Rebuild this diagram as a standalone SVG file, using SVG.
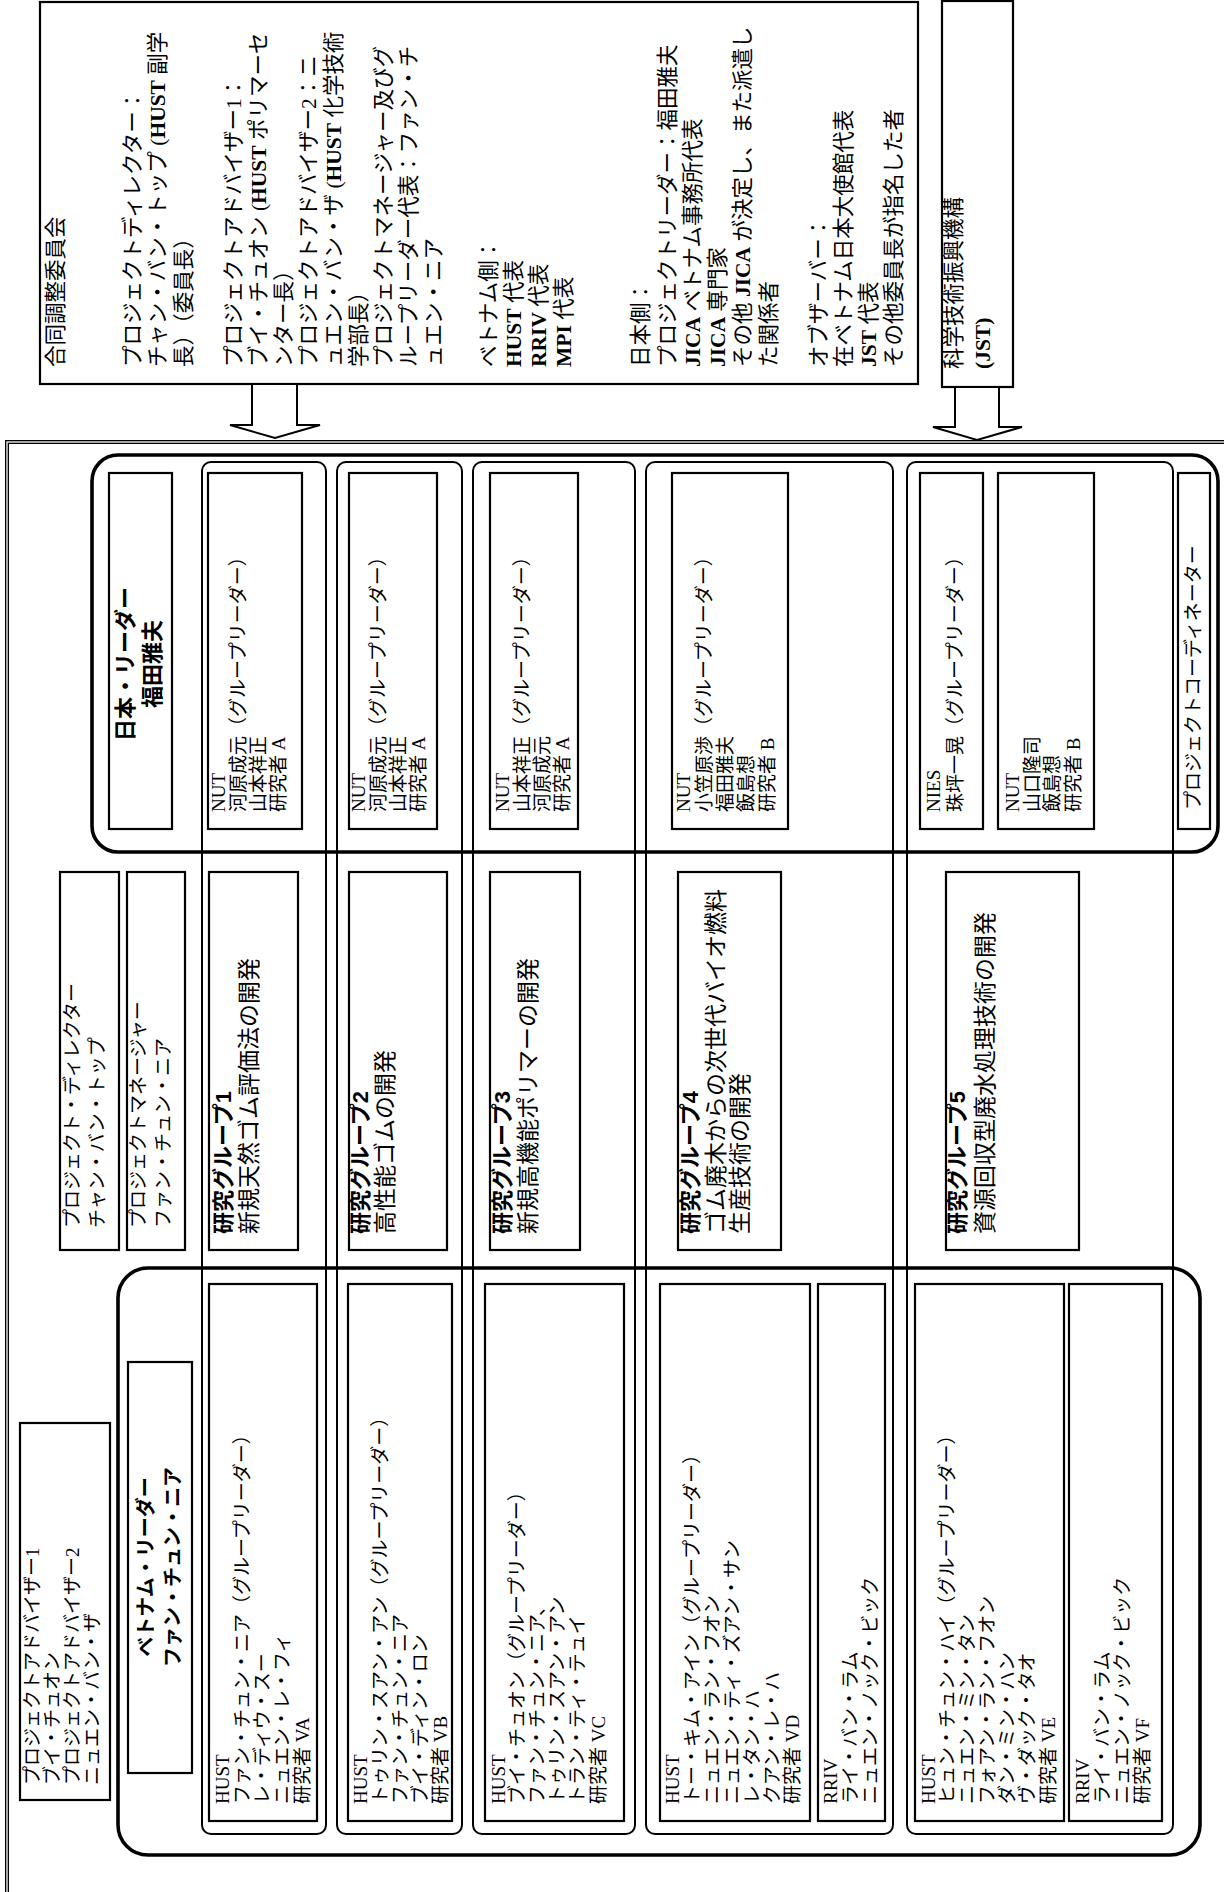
<svg xmlns="http://www.w3.org/2000/svg" width="1224" height="1892" viewBox="0 0 1224 1892">
<style>
text{font-family:"Liberation Serif","Noto Sans CJK JP",serif;fill:#000}
.c{font-size:21.5px}
.m{font-size:19px}
.t{font-size:23px}
.h{font-family:"Liberation Sans","Noto Sans CJK JP",sans-serif;font-weight:bold}
.mid{text-anchor:middle}
.lb{font-weight:bold}
.box{fill:#fff;stroke:#000;stroke-width:2.2}
.col{fill:none;stroke:#000;stroke-width:2}
.thick{fill:none;stroke:#000;stroke-width:3.6}
.arrow{fill:#fff;stroke:#000;stroke-width:2}
</style>
<rect width="1224" height="1892" fill="#fff"/>
<g transform="translate(0,1892) rotate(-90)">
  <g id="project-frame">
    <rect x="-108" y="7" width="1558" height="1300" fill="none" stroke="#000" stroke-width="4"/>
    <rect x="-108" y="7" width="1558" height="1300" fill="none" stroke="#fff" stroke-width="1.3"/>
  </g>
  <g id="committee">
    <rect class="box" x="1508" y="40" width="382" height="878"/>
    <text class="c" x="1525" y="63">合同調整委員会</text>
    <text class="c" x="1525" y="140">プロジェクトディレクター：</text>
    <text class="c" x="1525" y="165">チャン・バン・トップ (<tspan class="lb">HUST</tspan> 副学</text>
    <text class="c" x="1525" y="191">長）（委員長）</text>
    <text class="c" x="1525" y="241">プロジェクトアドバイザー1：</text>
    <text class="c" x="1525" y="266">ブイ・チュオン (<tspan class="lb">HUST</tspan> ポリマーセ</text>
    <text class="c" x="1525" y="291">ンター長）</text>
    <text class="c" x="1525" y="316">プロジェクトアドバイザー2：ニ</text>
    <text class="c" x="1525" y="341">ュエン・バン・ザ (<tspan class="lb">HUST</tspan> 化学技術</text>
    <text class="c" x="1525" y="366">学部長）</text>
    <text class="c" x="1525" y="391">プロジェクトマネージャー及びグ</text>
    <text class="c" x="1525" y="416">ループリーダー代表：ファン・チ</text>
    <text class="c" x="1525" y="441">ュエン・ニア</text>
    <text class="c" x="1525" y="496">ベトナム側：</text>
    <text class="c" x="1525" y="521"><tspan class="lb">HUST</tspan> 代表</text>
    <text class="c" x="1525" y="546"><tspan class="lb">RRIV</tspan> 代表</text>
    <text class="c" x="1525" y="571"><tspan class="lb">MPI</tspan> 代表</text>
    <text class="c" x="1525" y="648">日本側：</text>
    <text class="c" x="1525" y="675">プロジェクトリーダー：福田雅夫</text>
    <text class="c" x="1525" y="700"><tspan class="lb">JICA</tspan> ベトナム事務所代表</text>
    <text class="c" x="1525" y="725"><tspan class="lb">JICA</tspan> 専門家</text>
    <text class="c" x="1525" y="750">その他 <tspan class="lb">JICA</tspan> が決定し、また派遣し</text>
    <text class="c" x="1525" y="776">た関係者</text>
    <text class="c" x="1525" y="826">オブザーバー：</text>
    <text class="c" x="1525" y="851">在ベトナム日本大使館代表</text>
    <text class="c" x="1525" y="876"><tspan class="lb">JST</tspan> 代表</text>
    <text class="c" x="1525" y="901">その他委員長が指名した者</text>
  </g>
  <g id="jst">
    <rect class="box" x="1505" y="942" width="386" height="71"/>
    <text class="c" x="1523" y="961">科学技術振興機構</text>
    <text class="c lb" x="1523" y="990">(JST)</text>
  </g>
  <g id="connectors">
    <polygon class="arrow" points="1508,252 1467,252 1467,230 1454,275 1467,320 1467,297 1508,297"/>
    <polygon class="arrow" points="1505,955 1465,955 1465,933 1452,977 1465,1022 1465,999 1505,999"/>
  </g>
  <g id="group-columns">
    <rect class="col" x="58" y="202" width="1372" height="124" rx="9"/>
    <rect class="col" x="58" y="337" width="1372" height="125" rx="9"/>
    <rect class="col" x="58" y="473" width="1372" height="162" rx="9"/>
    <rect class="col" x="58" y="646" width="1372" height="247" rx="9"/>
    <rect class="col" x="58" y="907" width="1372" height="266" rx="9"/>
  </g>
  <g id="japan-side">
    <rect class="thick" x="1040" y="92" width="397" height="1126" rx="26"/>
  </g>
  <g id="vietnam-side">
    <rect class="thick" x="37" y="118" width="587" height="1082" rx="30"/>
  </g>
  <g id="japan-leader">
    <rect class="box" x="1063" y="109" width="356" height="63"/>
    <text class="h mid" font-size="22" x="1228" y="133">日本・リーダー</text>
    <text class="h mid" font-size="22" x="1228" y="160">福田雅夫</text>
  </g>
  <g id="jp-g1">
    <rect class="box" x="1063" y="208" width="356" height="94"/>
    <text class="m" x="1080" y="225">NUT</text>
    <text class="m" x="1080" y="245">河原成元（グループリーダー）</text>
    <text class="m" x="1080" y="265">山本祥正</text>
    <text class="m" x="1080" y="285">研究者 A</text>
  </g>
  <g id="jp-g2">
    <rect class="box" x="1063" y="349" width="356" height="88"/>
    <text class="m" x="1080" y="365">NUT</text>
    <text class="m" x="1080" y="385">河原成元（グループリーダー）</text>
    <text class="m" x="1080" y="405">山本祥正</text>
    <text class="m" x="1080" y="425">研究者 A</text>
  </g>
  <g id="jp-g3">
    <rect class="box" x="1063" y="490" width="356" height="88"/>
    <text class="m" x="1080" y="509">NUT</text>
    <text class="m" x="1080" y="529">山本祥正（グループリーダー）</text>
    <text class="m" x="1080" y="549">河原成元</text>
    <text class="m" x="1080" y="569">研究者 A</text>
  </g>
  <g id="jp-g4">
    <rect class="box" x="1063" y="672" width="356" height="116"/>
    <text class="m" x="1080" y="690">NUT</text>
    <text class="m" x="1080" y="711">小笠原渉（グループリーダー）</text>
    <text class="m" x="1080" y="732">福田雅夫</text>
    <text class="m" x="1080" y="753">飯島想</text>
    <text class="m" x="1080" y="774">研究者 B</text>
  </g>
  <g id="jp-g5-nies">
    <rect class="box" x="1063" y="920" width="356" height="63"/>
    <text class="m" x="1080" y="940">NIES</text>
    <text class="m" x="1080" y="962">珠坪一晃（グループリーダー）</text>
  </g>
  <g id="jp-g5-nut">
    <rect class="box" x="1063" y="998" width="356" height="96"/>
    <text class="m" x="1080" y="1019">NUT</text>
    <text class="m" x="1080" y="1039">山口隆司</text>
    <text class="m" x="1080" y="1059">飯島想</text>
    <text class="m" x="1080" y="1080">研究者 B</text>
  </g>
  <g id="coordinator">
    <rect class="box" x="1063" y="1178" width="356" height="32"/>
    <text class="m" x="1082" y="1200">プロジェクトコーディネーター</text>
  </g>
  <g id="director">
    <rect class="box" x="642" y="60" width="378" height="59"/>
    <text class="m" x="664" y="79">プロジェクト・ディレクター</text>
    <text class="m" x="664" y="104">チャン・バン・トップ</text>
  </g>
  <g id="manager">
    <rect class="box" x="642" y="127" width="378" height="58"/>
    <text class="m" x="664" y="145">プロジェクトマネージャー</text>
    <text class="m" x="664" y="170">ファン・チュン・ニア</text>
  </g>
  <g id="group1">
    <rect class="box" x="642" y="209" width="378" height="89"/>
    <text class="h" font-size="22" x="658" y="231">研究グループ1</text>
    <text class="t" x="658" y="257">新規天然ゴム評価法の開発</text>
  </g>
  <g id="group2">
    <rect class="box" x="642" y="349" width="378" height="98"/>
    <text class="h" font-size="22" x="658" y="368">研究グループ2</text>
    <text class="t" x="658" y="393">高性能ゴムの開発</text>
  </g>
  <g id="group3">
    <rect class="box" x="642" y="490" width="378" height="90"/>
    <text class="h" font-size="22" x="658" y="510">研究グループ3</text>
    <text class="t" x="658" y="536">新規高機能ポリマーの開発</text>
  </g>
  <g id="group4">
    <rect class="box" x="642" y="678" width="378" height="103"/>
    <text class="h" font-size="22" x="658" y="698">研究グループ4</text>
    <text class="t" x="658" y="724">ゴム廃木からの次世代バイオ燃料</text>
    <text class="t" x="658" y="748">生産技術の開発</text>
  </g>
  <g id="group5">
    <rect class="box" x="642" y="946" width="378" height="133"/>
    <text class="h" font-size="22" x="658" y="965">研究グループ5</text>
    <text class="t" x="658" y="993">資源回収型廃水処理技術の開発</text>
  </g>
  <g id="advisers">
    <rect class="box" x="92" y="20" width="377" height="90"/>
    <text class="m" x="107" y="39">プロジェクトアドバイザー1</text>
    <text class="m" x="107" y="59">ブイ・チュオン</text>
    <text class="m" x="107" y="79">プロジェクトアドバイザー2</text>
    <text class="m" x="107" y="99">ニュエン・バン・ザ</text>
  </g>
  <g id="vietnam-leader">
    <rect class="box" x="119" y="128" width="411" height="64"/>
    <text class="h mid" font-size="20" x="325" y="153">ベトナム・リーダー</text>
    <text class="h mid" font-size="20" x="325" y="180">ファン・チュン・ニア</text>
  </g>
  <g id="vn-g1">
    <rect class="box" x="71" y="209" width="537" height="108"/>
    <text class="m" x="88" y="229">HUST</text>
    <text class="m" x="88" y="249">ファン・チュン・ニア（グループリーダー）</text>
    <text class="m" x="88" y="269">レ・ディウ・スー</text>
    <text class="m" x="88" y="289">ニュエン・レ・フィ</text>
    <text class="m" x="88" y="309">研究者 VA</text>
  </g>
  <g id="vn-g2">
    <rect class="box" x="71" y="348" width="537" height="104"/>
    <text class="m" x="88" y="367">HUST</text>
    <text class="m" x="88" y="387">トゥリン・スアン・アン（グループリーダー）</text>
    <text class="m" x="88" y="407">ファン・チュン・ニア</text>
    <text class="m" x="88" y="427">ブイ・ディン・ロン</text>
    <text class="m" x="88" y="447">研究者 VB</text>
  </g>
  <g id="vn-g3">
    <rect class="box" x="71" y="485" width="537" height="139"/>
    <text class="m" x="88" y="505">HUST</text>
    <text class="m" x="88" y="524">ブイ・チュオン（グループリーダー）</text>
    <text class="m" x="88" y="544">ファン・チュン・ニア、</text>
    <text class="m" x="88" y="564">トゥリン・スアン・アン</text>
    <text class="m" x="88" y="584">トラン・ティ・テュイ</text>
    <text class="m" x="88" y="605">研究者 VC</text>
  </g>
  <g id="vn-g4-hust">
    <rect class="box" x="71" y="660" width="537" height="150"/>
    <text class="m" x="88" y="679">HUST</text>
    <text class="m" x="88" y="699">トー・キム・アイン（グループリーダー）</text>
    <text class="m" x="88" y="719">ニュエン・ラン・フオン</text>
    <text class="m" x="88" y="739">ニュエン・ティ・ズアン・サン</text>
    <text class="m" x="88" y="759">レ・タン・ハ</text>
    <text class="m" x="88" y="779">クアン・レ・ハ</text>
    <text class="m" x="88" y="799">研究者 VD</text>
  </g>
  <g id="vn-g4-rriv">
    <rect class="box" x="71" y="818" width="537" height="67"/>
    <text class="m" x="88" y="837">RRIV</text>
    <text class="m" x="88" y="857">ライ・バン・ラム</text>
    <text class="m" x="88" y="877">ニュエン・ノック・ビック</text>
  </g>
  <g id="vn-g5-hust">
    <rect class="box" x="71" y="915" width="537" height="149"/>
    <text class="m" x="88" y="935">HUST</text>
    <text class="m" x="88" y="954">ヒュン・チュン・ハイ（グループリーダー）</text>
    <text class="m" x="88" y="974">ニュエン・ミン・タン</text>
    <text class="m" x="88" y="994">フォアン・ラン・フオン</text>
    <text class="m" x="88" y="1014">ダン・ミン・ハン</text>
    <text class="m" x="88" y="1034">ヴ・ダック・タオ</text>
    <text class="m" x="88" y="1055">研究者 VE</text>
  </g>
  <g id="vn-g5-rriv">
    <rect class="box" x="71" y="1069" width="537" height="93"/>
    <text class="m" x="88" y="1089">RRIV</text>
    <text class="m" x="88" y="1109">ライ・バン・ラム</text>
    <text class="m" x="88" y="1129">ニュエン・ノック・ビック</text>
    <text class="m" x="88" y="1149">研究者 VF</text>
  </g>
</g>
</svg>
